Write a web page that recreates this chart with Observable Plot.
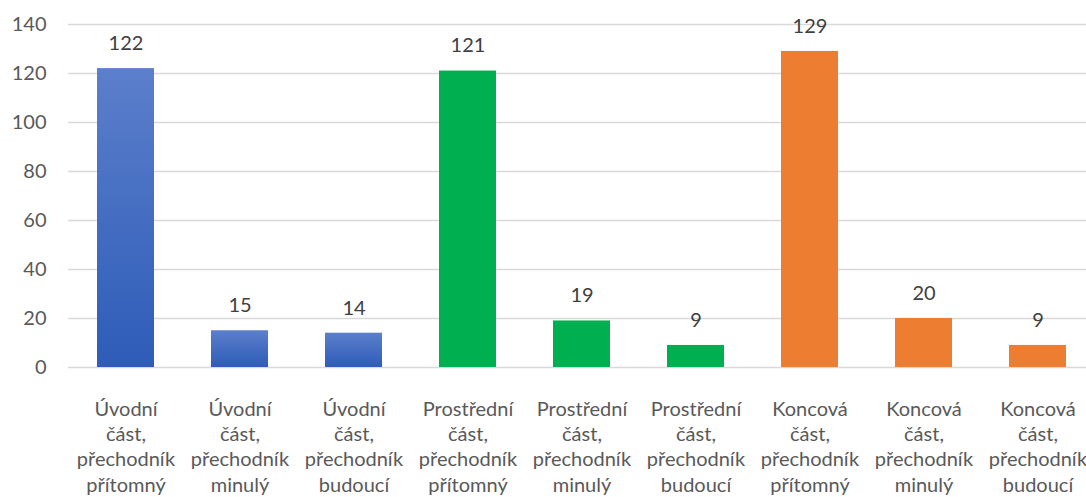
<!DOCTYPE html>
<html>
<head>
<meta charset="utf-8">
<script src="https://cdn.jsdelivr.net/npm/d3@7"></script>
<script src="https://cdn.jsdelivr.net/npm/@observablehq/plot@0.6"></script>
<style>
  html, body { margin: 0; padding: 0; background: #fff; overflow: hidden; }
  #chart svg { display: block; max-width: none !important; }
</style>
</head>
<body>
<div id="chart"></div>
<script>
const categories = [
  "Úvodní část, přechodník přítomný",
  "Úvodní část, přechodník minulý",
  "Úvodní část, přechodník budoucí",
  "Prostřední část, přechodník přítomný",
  "Prostřední část, přechodník minulý",
  "Prostřední část, přechodník budoucí",
  "Koncová část, přechodník přítomný",
  "Koncová část, přechodník minulý",
  "Koncová část, přechodník budoucí"
];
const values = [122, 15, 14, 121, 19, 9, 129, 20, 9];
const groups = ["Úvodní", "Úvodní", "Úvodní", "Prostřední", "Prostřední", "Prostřední", "Koncová", "Koncová", "Koncová"];
const yTicks = [0, 20, 40, 60, 80, 100, 120, 140];

const data = categories.map((c, i) => ({category: c, value: values[i], group: groups[i]}));

const wrap = (s) => s.split(" ").join("\n");

const font = "Lato, 'Open Sans', sans-serif";
const chart = Plot.plot({
  width: 1094,
  height: 497,
  marginTop: 24,
  marginBottom: 130,
  marginLeft: 68,
  marginRight: 0,
  style: {fontFamily: font, fontSize: "20px", color: "#595959", background: "#fff"},
  x: {domain: categories, paddingInner: 0.5, paddingOuter: 0.25, label: null},
  y: {domain: [0, 140], ticks: yTicks, label: null},
  color: {type: "ordinal", domain: ["Úvodní", "Prostřední", "Koncová"], range: ["url(#blueGrad)", "#00B050", "#ED7D31"]},
  marks: [
    Plot.gridY(yTicks, {stroke: "#d9d9d9", strokeOpacity: 1, strokeWidth: 1.5}),
    Plot.axisY(yTicks, {tickSize: 0, tickPadding: 22, fontSize: 20, fill: "#595959", label: null}),
    Plot.barY(data, {x: "category", y: "value", fill: "group"}),
    Plot.text(data, {x: "category", y: "value", text: d => String(d.value), dy: -25, fontSize: 20, fill: "#404040"}),
    Plot.axisX({tickSize: 0, tickPadding: 30, fontSize: 20, fill: "#595959", lineHeight: 1.27, tickFormat: wrap, lineAnchor: "top", label: null})
  ]
});

const defs = d3.select(chart).insert("defs", ":first-child");
const g = defs.append("linearGradient").attr("id", "blueGrad").attr("x1", 0).attr("y1", 0).attr("x2", 0).attr("y2", 1);
g.append("stop").attr("offset", "0%").attr("stop-color", "#5B7FCB");
g.append("stop").attr("offset", "100%").attr("stop-color", "#2E5CB8");

document.getElementById("chart").appendChild(chart);
</script>
</body>
</html>
